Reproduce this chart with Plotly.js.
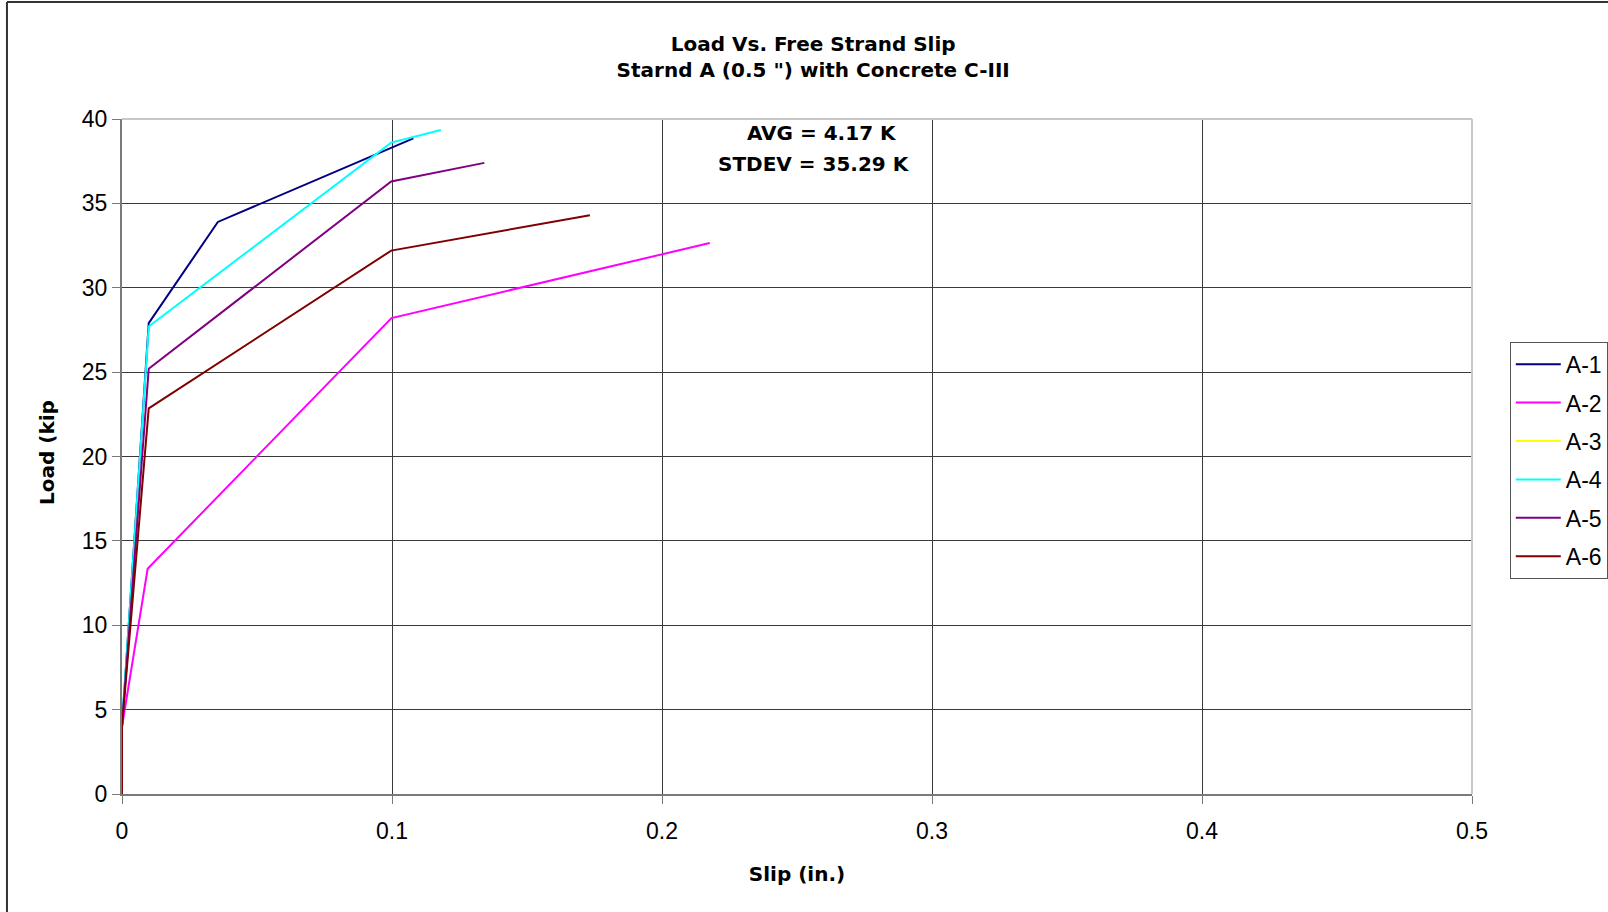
<!DOCTYPE html>
<html>
<head>
<meta charset="utf-8">
<script src="https://cdn.plot.ly/plotly-3.0.1.min.js"></script>
<style>html,body{margin:0;padding:0;background:#fff;}#chart{width:1608px;height:912px;}</style>
</head>
<body>
<div id="chart"></div>
<script>
// Data
const seriesNames = ["A-1", "A-2", "A-3", "A-4", "A-5", "A-6"];
const seriesColors = ["#000080", "#FF00FF", "#FFFF00", "#00FFFF", "#800080", "#800000"];
const slipA1 = [0, 0, 0.0099, 0.0355, 0.1079];
const loadA1 = [0, 4.0, 27.9, 33.9, 38.85];
const slipA2 = [0, 0, 0.0095, 0.0998, 0.2177];
const loadA2 = [0, 4.0, 13.35, 28.2, 32.65];
const slipA3 = [];
const loadA3 = [];
const slipA4 = [0, 0, 0.0099, 0.0997, 0.1181];
const loadA4 = [0, 4.1, 27.7, 38.6, 39.35];
const slipA5 = [0, 0, 0.0099, 0.0997, 0.1342];
const loadA5 = [0, 4.0, 25.2, 36.3, 37.4];
const slipA6 = [0, 0, 0.0099, 0.0997, 0.1733];
const loadA6 = [0, 4.0, 22.85, 32.2, 34.3];
const xTicks = [0, 0.1, 0.2, 0.3, 0.4, 0.5];
const yTicks = [0, 5, 10, 15, 20, 25, 30, 35, 40];
const annotationLines = ["AVG = 4.17 K", "STDEV = 35.29 K"];

const xs = [slipA1, slipA2, slipA3, slipA4, slipA5, slipA6];
const ys = [loadA1, loadA2, loadA3, loadA4, loadA5, loadA6];

const traces = seriesNames.map((n, i) => ({
  type: "scatter",
  mode: "lines",
  name: n,
  legendgroup: n,
  x: xs[i].length ? xs[i] : [null],
  y: ys[i].length ? ys[i] : [null],
  line: {color: seriesColors[i], width: 2},
  hoverinfo: "x+y+name"
}));

const font = "Liberation Sans, Arial, sans-serif";
const boldFont = "DejaVu Sans, Liberation Sans, Arial, sans-serif";

const layout = {
  width: 1608,
  height: 912,
  paper_bgcolor: "#ffffff",
  plot_bgcolor: "#ffffff",
  margin: {l: 122, r: 136.4, t: 119, b: 118, autoexpand: false},
  font: {family: font, color: "#000"},
  title: {
    text: "<b>Load Vs. Free Strand Slip<br>Starnd A (0.5 \") with Concrete C-III</b>",
    font: {family: boldFont, size: 20, color: "#000"},
    x: 0.512, xref: "paper", xanchor: "center",
    y: 1 - 51 / 912, yref: "container", yanchor: "middle"
  },
  xaxis: {
    range: [0, 0.5],
    tickvals: xTicks,
    ticktext: xTicks.map(v => String(v)),
    showgrid: true, gridcolor: "#3a3a3a", gridwidth: 1,
    showline: true, linecolor: "#7a7a7a", linewidth: 2,
    ticks: "outside", ticklen: 8, tickcolor: "#7a7a7a", tickwidth: 1,
    ticklabelstandoff: 7,
    tickfont: {family: font, size: 23, color: "#000"},
    zeroline: false,
    title: {text: "<b>Slip (in.)</b>", font: {family: boldFont, size: 20, color: "#000"}, standoff: 24},
    fixedrange: true
  },
  yaxis: {
    range: [0, 40],
    tickvals: yTicks,
    ticktext: yTicks.map(v => String(v)),
    showgrid: true, gridcolor: "#3a3a3a", gridwidth: 1,
    showline: true, linecolor: "#7a7a7a", linewidth: 2,
    ticks: "outside", ticklen: 8, tickcolor: "#7a7a7a", tickwidth: 1,
    tickfont: {family: font, size: 23, color: "#000"},
    zeroline: false,
    fixedrange: true
  },
  legend: {
    x: 1.028, xanchor: "left",
    y: 0.670, yanchor: "top",
    bordercolor: "#555555", borderwidth: 1,
    bgcolor: "#ffffff",
    font: {family: font, size: 23, color: "#000"},
    tracegroupgap: 5.5,
    itemwidth: 45
  },
  showlegend: true,
  annotations: [
    {text: "<b>" + annotationLines[0] + "</b>", xref: "paper", yref: "paper",
     x: (821.6 - 122) / 1349.6, y: (794 - 133) / 675, showarrow: false, xanchor: "center", yanchor: "middle",
     font: {family: boldFont, size: 20, color: "#000"}},
    {text: "<b>" + annotationLines[1] + "</b>", xref: "paper", yref: "paper",
     x: (813.7 - 122) / 1349.6, y: (794 - 164) / 675, showarrow: false, xanchor: "center", yanchor: "middle",
     font: {family: boldFont, size: 20, color: "#000"}},
    {text: "<b>Load (kip</b>", xref: "paper", yref: "paper",
     x: (47 - 122) / 1349.6, y: (794 - 452) / 675, showarrow: false, textangle: -90,
     xanchor: "center", yanchor: "middle",
     font: {family: boldFont, size: 20, color: "#000"}}
  ],
  shapes: [
    // plot area border (top and right)
    {type: "line", xref: "paper", yref: "paper", x0: 0, x1: 1, y0: 1, y1: 1,
     line: {color: "#c8c8c8", width: 2}},
    {type: "line", xref: "paper", yref: "paper", x0: 1, x1: 1, y0: 0, y1: 1,
     line: {color: "#c8c8c8", width: 2}},
    // outer chart frame
    {type: "line", xref: "paper", yref: "paper",
     x0: (7 - 122) / 1349.6, x1: (7 - 122) / 1349.6, y0: (794 - 2) / 675, y1: (794 - 912) / 675,
     line: {color: "#333333", width: 2}},
    {type: "line", xref: "paper", yref: "paper",
     x0: (7 - 122) / 1349.6, x1: (1608 - 122) / 1349.6, y0: (794 - 2) / 675, y1: (794 - 2) / 675,
     line: {color: "#333333", width: 2}}
  ]
};

Plotly.newPlot("chart", traces, layout, {displayModeBar: false, staticPlot: true});
</script>
</body>
</html>
